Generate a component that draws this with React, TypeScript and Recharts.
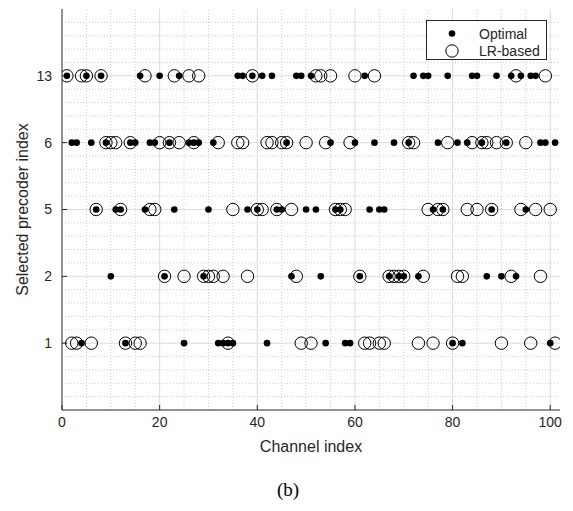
import React from 'react';
import { ScatterChart, Scatter, XAxis, YAxis, ReferenceLine } from 'recharts';

// Precoder index labels shown on the y axis (bottom to top)
const PRECODER_LABELS = ['1', '2', '5', '6', '13'];
// Channel indices 1..101
const CHANNELS = [
  1, 2, 3, 4, 5, 6, 7, 8, 9, 10, 11, 12, 13, 14, 15, 16, 17, 18, 19, 20,
  21, 22, 23, 24, 25, 26, 27, 28, 29, 30, 31, 32, 33, 34, 35, 36, 37, 38, 39, 40,
  41, 42, 43, 44, 45, 46, 47, 48, 49, 50, 51, 52, 53, 54, 55, 56, 57, 58, 59, 60,
  61, 62, 63, 64, 65, 66, 67, 68, 69, 70, 71, 72, 73, 74, 75, 76, 77, 78, 79, 80,
  81, 82, 83, 84, 85, 86, 87, 88, 89, 90, 91, 92, 93, 94, 95, 96, 97, 98, 99, 100,
  101,
];
// Selected precoder per channel, optimal
const OPTIMAL = [
  13, 6, 6, 1, 13, 6, 5, 13, 6, 2,
  5, 5, 1, 6, 6, 13, 5, 6, 6, 13,
  2, 6, 5, 13, 1, 6, 6, 6, 2, 5,
  6, 1, 1, 1, 1, 13, 13, 5, 13, 5,
  13, 1, 13, 5, 5, 6, 2, 13, 13, 5,
  13, 5, 2, 1, 6, 5, 5, 1, 1, 6,
  2, 13, 5, 6, 5, 5, 2, 6, 2, 2,
  6, 13, 2, 13, 13, 5, 6, 5, 13, 1,
  6, 1, 6, 13, 13, 6, 2, 5, 13, 2,
  6, 13, 2, 13, 5, 13, 13, 6, 6, 1,
  6,
];
// Selected precoder per channel, LR-based
const LR_BASED = [
  13, 1, 1, 13, 13, 1, 5, 13, 6, 6,
  6, 5, 1, 6, 1, 1, 13, 5, 5, 6,
  2, 6, 13, 6, 2, 13, 6, 13, 2, 2,
  2, 6, 2, 1, 5, 6, 6, 2, 13, 5,
  5, 6, 6, 5, 6, 6, 5, 2, 1, 6,
  1, 13, 13, 6, 13, 5, 5, 5, 6, 13,
  2, 1, 1, 13, 1, 1, 2, 2, 2, 2,
  6, 6, 1, 2, 5, 1, 5, 5, 6, 1,
  2, 2, 5, 6, 5, 6, 6, 5, 6, 1,
  6, 2, 13, 5, 6, 1, 5, 2, 13, 5,
  1,
];
const X_TICKS = [0, 20, 40, 60, 80, 100];

const posOf = (label: number) => PRECODER_LABELS.indexOf(String(label)) + 1;

const optimalData = CHANNELS.map((c, i) => ({ x: c, y: posOf(OPTIMAL[i]) }));
const lrData = CHANNELS.map((c, i) => ({ x: c, y: posOf(LR_BASED[i]) }));

const Y_TICKS = PRECODER_LABELS.map((_, i) => i + 1);

const minorX: number[] = [];
for (let v = 5; v < 102; v += 5) if (v % 20 !== 0) minorX.push(v);
const minorY: number[] = [];
for (let k = 1; k < 30; k++) if (k % 5 !== 0) minorY.push(k / 5);

const FONT = '"Liberation Sans", Arial, Helvetica, sans-serif';
const AXIS_COLOR = '#262626';

const FilledDot = (p: any) => <circle cx={p.cx} cy={p.cy} r={3.3} fill="#000" />;
const OpenCircle = (p: any) => (
  <circle cx={p.cx} cy={p.cy} r={6.2} fill="none" stroke="#000" strokeWidth={1} />
);

export default function App() {
  return (
    <div style={{ position: 'relative', width: 565, height: 495, fontFamily: FONT }}>
      <ScatterChart
        width={565}
        height={455}
        margin={{ top: 1, right: 13, bottom: 23, left: 0 }}
        style={{ fontFamily: FONT }}
      >
        {minorX.map((v) => (
          <ReferenceLine key={'mx' + v} x={v} stroke="#cdcdcd" strokeDasharray="1 2" strokeWidth={1} />
        ))}
        {minorY.map((v) => (
          <ReferenceLine key={'my' + v} y={v} stroke="#cdcdcd" strokeDasharray="1 2" strokeWidth={1} />
        ))}
        {X_TICKS.filter((v) => v > 0).map((v) => (
          <ReferenceLine key={'gx' + v} x={v} stroke="#dbdbdb" strokeWidth={1} />
        ))}
        {Y_TICKS.map((v) => (
          <ReferenceLine key={'gy' + v} y={v} stroke="#dbdbdb" strokeWidth={1} />
        ))}
        <XAxis
          dataKey="x"
          type="number"
          domain={[0, 102]}
          ticks={X_TICKS}
          allowDataOverflow
          height={30}
          tickSize={-5}
          tickMargin={12}
          stroke={AXIS_COLOR}
          tick={{ fill: AXIS_COLOR, fontSize: 14, fontFamily: FONT }}
          label={{
            content: () => (
              <text
                x={303}
                y={438}
                textAnchor="middle"
                dominantBaseline="central"
                fill={AXIS_COLOR}
                fontSize={16}
                fontFamily={FONT}
              >
                Channel index
              </text>
            ),
          }}
        />
        <XAxis
          xAxisId="top"
          orientation="top"
          type="number"
          domain={[0, 102]}
          ticks={X_TICKS}
          allowDataOverflow
          height={0}
          tickSize={-5}
          tick={false}
          stroke={AXIS_COLOR}
        />
        <YAxis
          dataKey="y"
          type="number"
          domain={[0, 6]}
          ticks={Y_TICKS}
          allowDataOverflow
          width={54}
          tickSize={-5}
          tickMargin={15}
          stroke={AXIS_COLOR}
          tickFormatter={(v: number) => PRECODER_LABELS[v - 1] ?? ''}
          tick={{ fill: AXIS_COLOR, fontSize: 14, fontFamily: FONT }}
          label={{
            content: () => (
              <text
                x={14}
                y={201.5}
                transform="rotate(-90 14 201.5)"
                textAnchor="middle"
                dominantBaseline="central"
                fill={AXIS_COLOR}
                fontSize={16}
                fontFamily={FONT}
              >
                Selected precoder index
              </text>
            ),
          }}
        />
        <YAxis
          yAxisId="right"
          orientation="right"
          type="number"
          domain={[0, 6]}
          ticks={Y_TICKS}
          allowDataOverflow
          width={0}
          tickSize={-5}
          tick={false}
          stroke={AXIS_COLOR}
        />
        <Scatter name="Optimal" data={optimalData} shape={FilledDot} isAnimationActive={false} />
        <Scatter name="LR-based" data={lrData} shape={OpenCircle} isAnimationActive={false} />
      </ScatterChart>

      <div
        style={{
          position: 'absolute',
          left: 418,
          top: 12,
          width: 119,
          height: 38,
          border: '1px solid #262626',
          background: '#fff',
          color: AXIS_COLOR,
        }}
      >
        <svg width={119} height={38} style={{ position: 'absolute', left: 0, top: 0 }}>
          <circle cx={25} cy={12.5} r={3.3} fill="#000" />
          <circle cx={25} cy={30} r={6.2} fill="none" stroke="#000" strokeWidth={1} />
          <text x={52} y={12.5} dominantBaseline="central" fontSize={14} fontFamily={FONT} fill={AXIS_COLOR}>
            Optimal
          </text>
          <text x={52} y={30} dominantBaseline="central" fontSize={14} fontFamily={FONT} fill={AXIS_COLOR}>
            LR-based
          </text>
        </svg>
      </div>

      <div
        style={{
          position: 'absolute',
          left: 230,
          width: 100,
          top: 470,
          textAlign: 'center',
          fontFamily: '"Liberation Serif", "Times New Roman", serif',
          fontSize: 19,
          lineHeight: '24px',
          color: '#000',
        }}
      >
        (b)
      </div>
    </div>
  );
}
